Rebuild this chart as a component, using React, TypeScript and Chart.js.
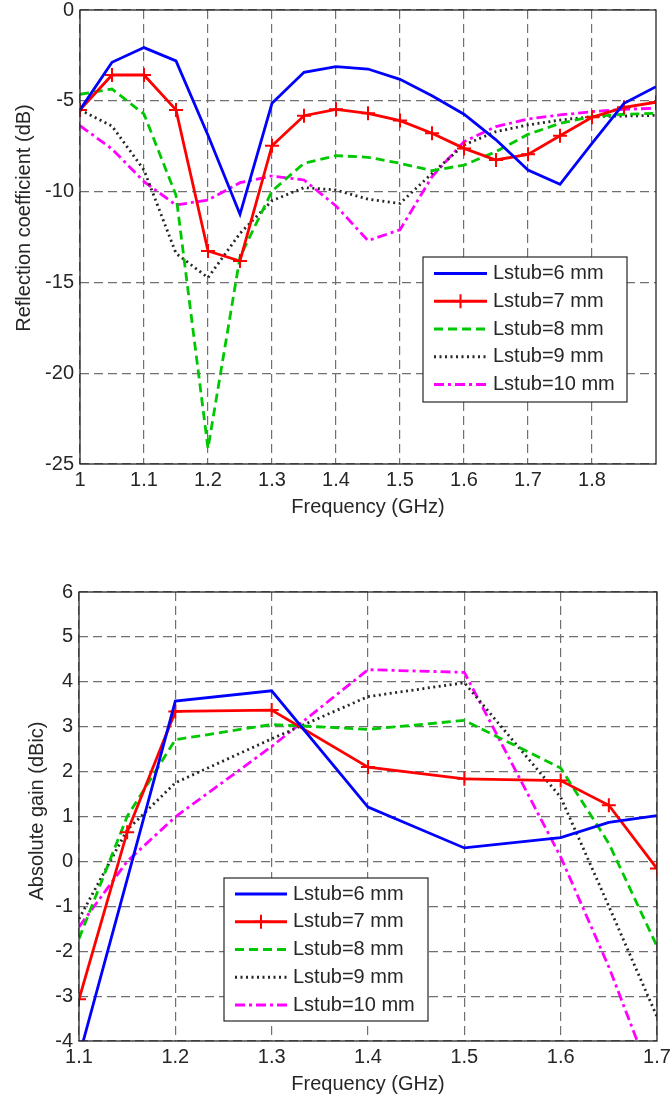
import React, { useEffect, useRef } from 'react';
import { Chart, registerables } from 'chart.js';
Chart.register(...registerables);

const FONT = '"Liberation Sans", Arial, Helvetica, sans-serif';
const TEXT = '#262626';

// ---------- Top chart data: reflection coefficient ----------
const topFreq = [1.0, 1.05, 1.1, 1.15, 1.2, 1.25, 1.3, 1.35, 1.4, 1.45, 1.5, 1.55, 1.6, 1.65, 1.7, 1.75, 1.8, 1.85, 1.9];
const topL6 = [-5.5, -2.88, -2.07, -2.8, -6.9, -11.25, -5.14, -3.43, -3.12, -3.25, -3.82, -4.72, -5.74, -7.15, -8.81, -9.6, -7.34, -5.14, -4.22];
const topL7 = [-5.5, -3.58, -3.58, -5.5, -13.27, -13.82, -7.47, -5.82, -5.47, -5.69, -6.09, -6.79, -7.62, -8.26, -7.95, -6.92, -5.91, -5.36, -5.08];
const topL8 = [-4.64, -4.35, -5.73, -10.2, -24.14, -13.6, -9.97, -8.44, -8.02, -8.11, -8.44, -8.85, -8.54, -7.8, -6.85, -6.24, -5.87, -5.74, -5.69];
const topL9 = [-5.5, -6.39, -8.81, -13.4, -14.74, -12.3, -10.5, -9.78, -9.91, -10.42, -10.65, -9.0, -7.43, -6.7, -6.33, -6.06, -5.87, -5.84, -5.8];
const topL10 = [-6.37, -7.65, -9.45, -10.74, -10.46, -9.51, -9.14, -9.36, -10.79, -12.7, -12.1, -9.18, -7.25, -6.42, -6.0, -5.78, -5.6, -5.47, -5.41];
const topXTicks = [1, 1.1, 1.2, 1.3, 1.4, 1.5, 1.6, 1.7, 1.8];
const topYTicks = [-25, -20, -15, -10, -5, 0];

// ---------- Bottom chart data: absolute gain ----------
const botFreq = [1.1, 1.15, 1.2, 1.3, 1.4, 1.5, 1.6, 1.65, 1.7];
const botL6 = [-4.35, -0.4, 3.57, 3.8, 1.21, 0.3, 0.53, 0.87, 1.02];
const botL7 = [-3.07, 0.65, 3.34, 3.37, 2.1, 1.84, 1.8, 1.25, -0.16];
const botL8 = [-1.72, 1.0, 2.71, 3.05, 2.94, 3.14, 2.08, 0.4, -1.89];
const botL9 = [-1.28, 0.7, 1.75, 2.73, 3.67, 3.98, 1.43, -1.0, -3.46];
const botL10 = [-1.46, 0.0, 0.99, 2.56, 4.27, 4.21, 0.1, -2.35, -5.15];
const botXTicks = [1.1, 1.2, 1.3, 1.4, 1.5, 1.6, 1.7];
const botYTicks = [-4, -3, -2, -1, 0, 1, 2, 3, 4, 5, 6];

const seriesLabels = ['Lstub=6 mm', 'Lstub=7 mm', 'Lstub=8 mm', 'Lstub=9 mm', 'Lstub=10 mm'];

const STYLES = [
  { color: '#0000ff', dash: [] as number[], width: 2.8, marker: false },
  { color: '#ff0000', dash: [] as number[], width: 2.8, marker: true },
  { color: '#00c800', dash: [9, 5], width: 2.8, marker: false },
  { color: '#262626', dash: [2, 3.5], width: 2.8, marker: false },
  { color: '#ff00ff', dash: [10, 4, 3, 4], width: 2.8, marker: false },
];

type LegendGeo = { x: number; y: number; w: number; h: number; first: number; gap: number; lx1: number; lx2: number; tx: number };
type TitleGeo = { text: string; x: number; y: number };

function makePlugin(legend: LegendGeo, yTitle: TitleGeo) {
  return {
    id: 'frameLegend',
    afterDatasetsDraw(chart: any) {
      const ctx = chart.ctx;
      const a = chart.chartArea;
      ctx.save();
      ctx.strokeStyle = TEXT;
      ctx.lineWidth = 1.3;
      ctx.setLineDash([]);
      ctx.strokeRect(a.left, a.top, a.right - a.left, a.bottom - a.top);
      ctx.restore();
    },
    afterDraw(chart: any) {
      const ctx = chart.ctx;
      ctx.save();
      // y-axis title
      ctx.translate(yTitle.x, yTitle.y);
      ctx.rotate(-Math.PI / 2);
      ctx.fillStyle = TEXT;
      ctx.font = `20px ${FONT}`;
      ctx.textAlign = 'center';
      ctx.textBaseline = 'alphabetic';
      ctx.fillText(yTitle.text, 0, 0);
      ctx.restore();

      ctx.save();
      ctx.fillStyle = '#ffffff';
      ctx.fillRect(legend.x, legend.y, legend.w, legend.h);
      ctx.strokeStyle = TEXT;
      ctx.lineWidth = 1.2;
      ctx.setLineDash([]);
      ctx.strokeRect(legend.x, legend.y, legend.w, legend.h);
      STYLES.forEach((s, i) => {
        const y = legend.y + legend.first + i * legend.gap;
        ctx.strokeStyle = s.color;
        ctx.lineWidth = s.width;
        ctx.setLineDash(s.dash);
        ctx.beginPath();
        ctx.moveTo(legend.lx1, y);
        ctx.lineTo(legend.lx2, y);
        ctx.stroke();
        ctx.setLineDash([]);
        if (s.marker) {
          const mx = (legend.lx1 + legend.lx2) / 2;
          ctx.lineWidth = 2;
          ctx.beginPath();
          ctx.moveTo(mx - 7, y);
          ctx.lineTo(mx + 7, y);
          ctx.moveTo(mx, y - 7);
          ctx.lineTo(mx, y + 7);
          ctx.stroke();
        }
        ctx.fillStyle = TEXT;
        ctx.font = `20px ${FONT}`;
        ctx.textBaseline = 'middle';
        ctx.textAlign = 'left';
        ctx.fillText(seriesLabels[i], legend.tx, y);
      });
      ctx.restore();
    },
  };
}

type Cfg = {
  freq: number[];
  series: number[][];
  xMin: number; xMax: number; xTicks: number[];
  yMin: number; yMax: number; yTicks: number[];
  yTitle: TitleGeo; yWidth: number;
  xHeight: number; xTitlePad: number;
  padTop: number; padRight: number;
  legend: LegendGeo;
};

const fmt = (v: any) => String(Math.round(Number(v) * 100) / 100);

function buildConfig(c: Cfg): any {
  return {
    type: 'line',
    data: {
      datasets: c.series.map((vals, i) => ({
        label: seriesLabels[i],
        data: c.freq.map((x, j) => ({ x, y: vals[j] })),
        borderColor: STYLES[i].color,
        backgroundColor: STYLES[i].color,
        borderWidth: STYLES[i].width,
        borderDash: STYLES[i].dash,
        pointRadius: STYLES[i].marker ? 7 : 0,
        pointStyle: 'cross',
        pointBorderWidth: 2,
        pointBorderColor: STYLES[i].color,
        tension: 0,
        fill: false,
      })),
    },
    options: {
      responsive: false,
      animation: false,
      events: [],
      layout: { padding: { top: c.padTop, right: c.padRight, left: 0, bottom: 0 } },
      plugins: { legend: { display: false }, tooltip: { enabled: false } },
      scales: {
        x: {
          type: 'linear',
          min: c.xMin,
          max: c.xMax,
          afterBuildTicks: (s: any) => { s.ticks = c.xTicks.map((v) => ({ value: v })); },
          afterFit: (s: any) => { s.height = c.xHeight; s.paddingLeft = 0; s.paddingRight = 0; },
          grid: { color: '#707070', lineWidth: 1.2, drawTicks: false },
          border: { display: false, dash: [9, 5] },
          ticks: { color: TEXT, font: { family: FONT, size: 20 }, padding: 4, maxRotation: 0, autoSkip: false, callback: fmt },
          title: { display: true, text: 'Frequency (GHz)', color: TEXT, font: { family: FONT, size: 20 }, padding: { top: 0, bottom: c.xTitlePad } },
        },
        y: {
          type: 'linear',
          min: c.yMin,
          max: c.yMax,
          afterBuildTicks: (s: any) => { s.ticks = c.yTicks.map((v) => ({ value: v })); },
          afterFit: (s: any) => { s.width = c.yWidth; s.paddingTop = 0; s.paddingBottom = 0; },
          grid: { color: '#707070', lineWidth: 1.2, drawTicks: false },
          border: { display: false, dash: [9, 5] },
          ticks: { color: TEXT, font: { family: FONT, size: 20 }, padding: 6, autoSkip: false, callback: fmt },
          title: { display: false },
        },
      },
    },
    plugins: [makePlugin(c.legend, c.yTitle)],
  };
}

export default function App() {
  const topRef = useRef<HTMLCanvasElement>(null);
  const botRef = useRef<HTMLCanvasElement>(null);

  useEffect(() => {
    const c1 = new Chart(topRef.current as HTMLCanvasElement, buildConfig({
      freq: topFreq,
      series: [topL6, topL7, topL8, topL9, topL10],
      xMin: 1, xMax: 1.9, xTicks: topXTicks,
      yMin: -25, yMax: 0, yTicks: topYTicks,
      yTitle: { text: 'Reflection coefficient (dB)', x: 30, y: 218 },
      yWidth: 80,
      xHeight: 71, xTitlePad: 16,
      padTop: 10, padRight: 16,
      legend: { x: 423, y: 257, w: 204, h: 145, first: 16.5, gap: 27.75, lx1: 434, lx2: 487, tx: 493 },
    }));
    const c2 = new Chart(botRef.current as HTMLCanvasElement, buildConfig({
      freq: botFreq,
      series: [botL6, botL7, botL8, botL9, botL10],
      xMin: 1.1, xMax: 1.7, xTicks: botXTicks,
      yMin: -4, yMax: 6, yTicks: botYTicks,
      yTitle: { text: 'Absolute gain (dBic)', x: 43, y: 276 },
      yWidth: 79,
      xHeight: 58, xTitlePad: 3,
      padTop: 57, padRight: 15,
      legend: { x: 224, y: 343, w: 204, h: 143, first: 16, gap: 27.75, lx1: 235, lx2: 287, tx: 293 },
    }));
    return () => { c1.destroy(); c2.destroy(); };
  }, []);

  return (
    <div style={{ position: 'absolute', left: 0, top: 0, width: 672, height: 1099, background: '#ffffff' }}>
      <canvas ref={topRef} width={672} height={535} style={{ position: 'absolute', left: 0, top: 0, width: 672, height: 535, display: 'block' }} />
      <canvas ref={botRef} width={672} height={564} style={{ position: 'absolute', left: 0, top: 535, width: 672, height: 564, display: 'block' }} />
    </div>
  );
}
